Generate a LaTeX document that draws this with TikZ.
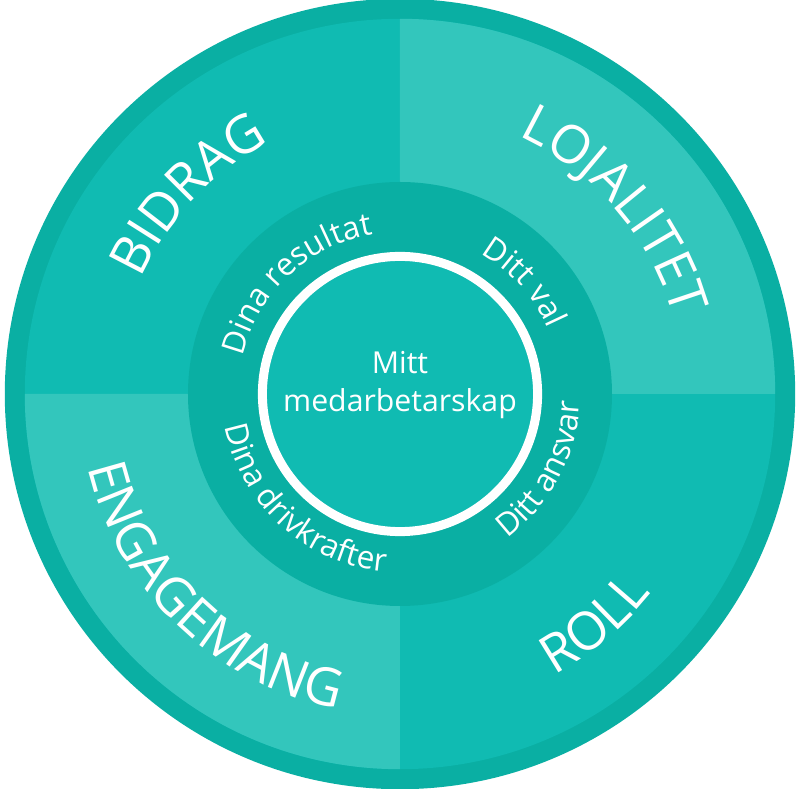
\documentclass[tikz,border=0pt]{standalone}
\usepackage{fontspec}
\setmainfont{Open Sans}
\usetikzlibrary{decorations.text}
\definecolor{ringteal}{HTML}{0AAFA3}
\definecolor{darkteal}{HTML}{10BBB2}
\definecolor{lightteal}{HTML}{33C6BC}
\newcommand{\bigfont}{\fontsize{37.5}{40}\selectfont}
\newcommand{\midfont}{\fontsize{22.5}{27}\selectfont}
\newcommand{\smallfont}{\fontsize{21.5}{27}\selectfont}
\tikzset{
	outerlabel/.style={decorate,decoration={text along path,text align=center,text color=white,text={|\bigfont|#1}}},
	innerlabel/.style={decorate,decoration={text along path,text align=center,text color=white,text={|\midfont|#1}}}
}
\begin{document}
\begin{tikzpicture}
	\useasboundingbox (-10,-9.875) rectangle (10,9.85);
	% outer ring and quadrants
	\fill[ringteal] (0,0) circle(9.88);
	\fill[darkteal] (0,0) circle(9.38);
	\fill[lightteal] (0,0)--(0,9.38) arc[start angle=90,end angle=0,radius=9.38]--cycle;
	\fill[lightteal] (0,0)--(-9.38,0) arc[start angle=180,end angle=270,radius=9.38]--cycle;
	% inner ring
	\fill[ringteal] (0,0) circle(5.3);
	\fill[darkteal] (0,0) circle(3.44);
	\draw[white,line width=6.4pt] (0,0) circle(3.44);
	\node[align=center,text=white,font=\smallfont] (mitt) at (0,0.22) {Mitt\\medarbetarskap};
	% outer labels
	\path[outerlabel=BIDRAG] (186.7:7.08) arc[start angle=186.7,end angle=86.7,radius=7.08];
	\path[outerlabel=LOJALITET] (100.5:7.1) arc[start angle=100.5,end angle=-19.5,radius=7.1];
	\path[outerlabel=ENGAGEMANG] (160:8.02) arc[start angle=160,end angle=292,radius=8.02];
	\path[outerlabel=ROLL] (-100:8.02) arc[start angle=-100,end angle=0.4,radius=8.02];
	% inner labels
	\path[innerlabel=Dina resultat] (193:4.05) arc[start angle=193,end angle=73,radius=4.05];
	\path[innerlabel=Ditt val] (102:4.05) arc[start angle=102,end angle=-18,radius=4.05];
	\path[innerlabel=Dina drivkrafter] (163:4.45) arc[start angle=163,end angle=293,radius=4.45];
	\path[innerlabel=Ditt ansvar] (-93:4.5) arc[start angle=-93,end angle=37,radius=4.5];
\end{tikzpicture}
\end{document}
